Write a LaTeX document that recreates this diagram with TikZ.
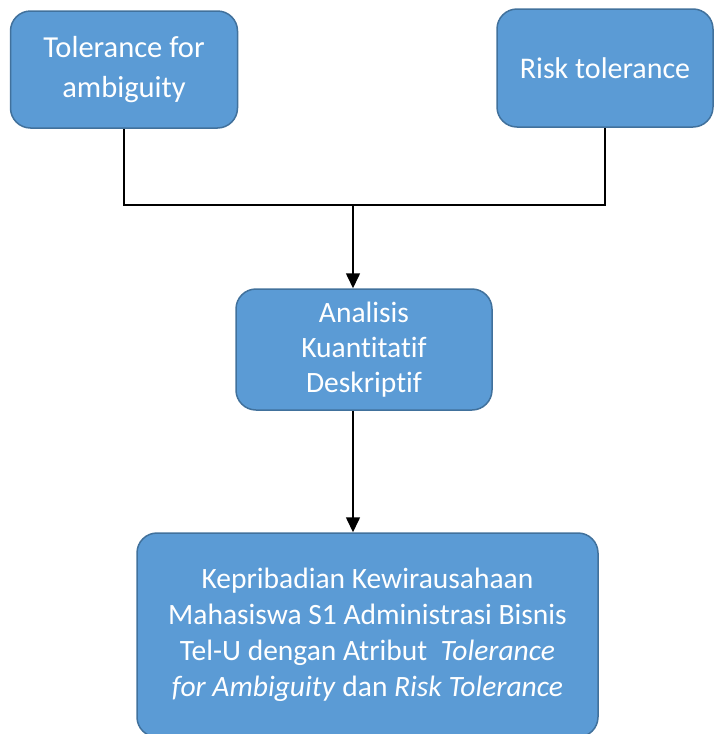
\documentclass[tikz,border=0pt]{standalone}
\usepackage{fontspec}
\setmainfont{Carlito}[Ligatures=NoCommon]
\usetikzlibrary{arrows.meta}
\definecolor{boxfill}{HTML}{5B9BD5}
\definecolor{boxline}{HTML}{41719C}
\tikzset{
  bluebox/.style={rectangle, rounded corners=20pt, fill=boxfill, draw=boxline, line width=1.5pt,
    text=white, align=center, inner sep=4pt, font=\fontsize{29.5}{36}\selectfont},
  conn/.style={draw=black, line width=1.6pt},
  arr/.style={conn, -{Triangle[length=15pt,width=14pt]}}
}
\begin{document}
\begin{tikzpicture}[x=1pt,y=-1pt]
\useasboundingbox (0,0) rectangle (713,734);
\node[bluebox, minimum width=227pt, minimum height=117pt, font=\fontsize{30.5}{40}\selectfont] (b1) at (124,69.5) {Tolerance for\\ambiguity};
\node[bluebox, minimum width=216pt, minimum height=118pt, font=\fontsize{30}{36}\selectfont] (b2) at (605,68) {Risk tolerance};
\node[bluebox, minimum width=256pt, minimum height=121pt, font=\fontsize{29.5}{35}\selectfont] (b3) at (364,349.5) {Analisis\\Kuantitatif\\Deskriptif};
\node[bluebox, minimum width=461pt, minimum height=204pt] (b4) at (367.5,635) {Kepribadian Kewirausahaan\\Mahasiswa S1 Administrasi Bisnis\\Tel-U dengan Atribut \ \textit{Tolerance}\\\textit{for Ambiguity} dan \textit{Risk Tolerance}};
\coordinate (j) at (353,205);
\draw[conn] (b1.south) -- (b1.south |- j) -- (b2.south |- j) -- (b2.south);
\draw[arr] (j) -- (j |- b3.north);
\draw[arr] (j |- b3.south) -- (j |- b4.north);
\end{tikzpicture}
\end{document}
